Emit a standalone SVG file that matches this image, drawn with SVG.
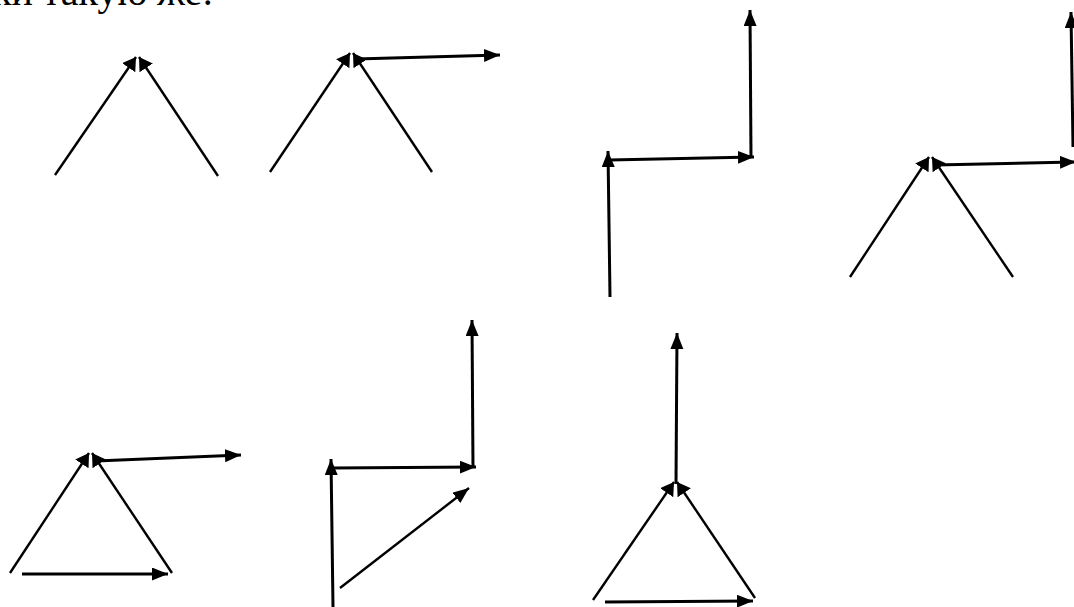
<svg xmlns="http://www.w3.org/2000/svg" width="1074" height="607" viewBox="0 0 1074 607">
<style>
.l{stroke:#000;stroke-width:2.4;fill:none;stroke-linecap:butt}
.h{stroke:#000;stroke-width:3;fill:none}
.leg{marker-end:url(#sm)}
.arr{marker-end:url(#big)}
.t{font-family:"Liberation Serif",serif;font-size:40px;fill:#000}
</style>
<defs>
<marker id="big" markerUnits="userSpaceOnUse" markerWidth="18" markerHeight="14" refX="16" refY="6.5" orient="auto" viewBox="0 0 18 14">
<path d="M0,0 L16,6.5 L0,13 z" fill="#000"/>
</marker>
<marker id="sm" markerUnits="userSpaceOnUse" markerWidth="16" markerHeight="18" refX="13" refY="8" orient="auto" viewBox="0 0 16 18">
<path d="M0,0 L13,8 L0,16 z" fill="#000"/>
</marker>
</defs>
<rect width="1074" height="607" fill="#fff"/>
<text class="t" x="-8" y="5">ки такую же:</text>
<g id="connectors">
<g id="fig1">
<line class="l leg" x1="55" y1="175" x2="136" y2="57"/>
<line class="l leg" x1="218" y1="176" x2="139" y2="57"/>
</g>
<g id="fig2">
<line class="l leg" x1="270" y1="172" x2="350" y2="53"/>
<line class="l leg" x1="432" y1="172" x2="353" y2="53"/>
<line class="h arr" x1="356" y1="59" x2="500" y2="55"/>
</g>
<g id="fig3">
<line class="h arr" x1="610" y1="297" x2="608" y2="151"/>
<line class="h arr" x1="609" y1="160" x2="754" y2="157"/>
<line class="h arr" x1="751" y1="158" x2="750" y2="10"/>
</g>
<g id="fig4">
<line class="l leg" x1="850" y1="277" x2="929" y2="157"/>
<line class="l leg" x1="1013" y1="277" x2="932" y2="157"/>
<line class="h arr" x1="935" y1="165" x2="1076" y2="162"/>
<line class="h arr" x1="1073" y1="147" x2="1071" y2="12"/>
</g>
<g id="fig5">
<line class="l leg" x1="10" y1="573" x2="89" y2="453"/>
<line class="l leg" x1="172" y1="573" x2="92" y2="453"/>
<line class="h arr" x1="96" y1="461" x2="241" y2="455"/>
<line class="h arr" x1="22" y1="574" x2="168" y2="574"/>
</g>
<g id="fig6">
<line class="h arr" x1="333" y1="607" x2="331" y2="459"/>
<line class="h arr" x1="333" y1="468" x2="476" y2="467"/>
<line class="h arr" x1="473" y1="468" x2="472" y2="320"/>
<line class="l arr" x1="340" y1="588" x2="469" y2="488"/>
</g>
<g id="fig7">
<line class="h arr" x1="676" y1="484" x2="677" y2="333"/>
<line class="l leg" x1="593" y1="600" x2="674" y2="482"/>
<line class="l leg" x1="755" y1="598" x2="677" y2="482"/>
<line class="h arr" x1="605" y1="602" x2="753" y2="601"/>
</g>
</g>
</svg>
